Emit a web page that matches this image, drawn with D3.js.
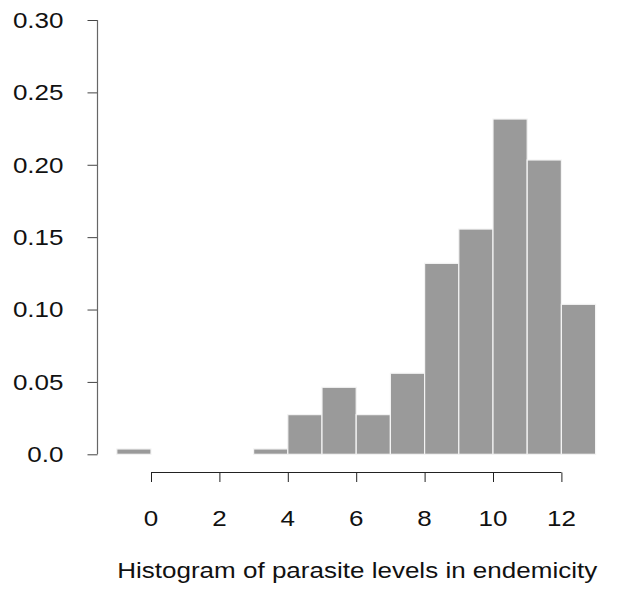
<!DOCTYPE html>
<html>
<head>
<meta charset="utf-8">
<script src="https://cdn.jsdelivr.net/npm/d3@7"></script>
<style>
    body { margin: 0; background: #fff; }
    svg { display: block; font-family: "Liberation Sans", Arial, sans-serif; }
</style>
</head>
<body>
<div id="chart"></div>
<script>
// bins of width 1, start value of each
const binStarts = [-1, 0, 1, 2, 3, 4, 5, 6, 7, 8, 9, 10, 11, 12];
const densities = [0.0037, 0, 0, 0, 0.0037, 0.0274, 0.0463, 0.0274, 0.0560, 0.1319, 0.1556, 0.2316, 0.2033, 0.1036];
const binWidth = 1;

const yTicks = [0, 0.05, 0.10, 0.15, 0.20, 0.25, 0.30];
const yTickLabels = ['0.0', '0.05', '0.10', '0.15', '0.20', '0.25', '0.30'];
const xTicks = [0, 2, 4, 6, 8, 10, 12];
const xTickLabels = ['0', '2', '4', '6', '8', '10', '12'];
const xLabel = 'Histogram of parasite levels in endemicity';

class HistChart {
    constructor() {
        this.width = 619;
        this.height = 590;
        this.fontSize = 21.5;
        this.stretch = 1.21; // text in the original is a bit wide
    }

    draw(container) {
        const svg = container.append('svg')
            .attr('width', this.width)
            .attr('height', this.height);

        const x = d3.scaleLinear().domain([-1, 13]).range([116.8, 595.6]);
        const y = d3.scaleLinear().domain([0, 0.30]).range([454.3, 20]);

        // Bars
        svg.append('g')
            .selectAll('rect')
            .data(binStarts.map((s, i) => ({ start: s, value: densities[i] })))
            .join('rect')
            .attr('x', d => x(d.start))
            .attr('y', d => y(d.value))
            .attr('width', d => x(d.start + binWidth) - x(d.start))
            .attr('height', d => y(0) - y(d.value))
            .attr('fill', '#9a9a9a')
            .attr('stroke', '#f4f4f4')
            .attr('stroke-width', 1.2);

        // Y axis
        const yAxis = svg.append('g')
            .attr('transform', 'translate(97.5,0)')
            .call(d3.axisLeft(y).tickValues(yTicks).tickSize(10).tickFormat(''));
        yAxis.select('.domain').remove();
        yAxis.selectAll('.tick line').attr('stroke', '#444');
        svg.append('line')
            .attr('x1', 97.5).attr('x2', 97.5)
            .attr('y1', y(0)).attr('y2', y(0.30))
            .attr('stroke', '#666').attr('stroke-width', 1.2);

        svg.append('g')
            .selectAll('text')
            .data(yTicks)
            .join('text')
            .attr('transform', d => `translate(63.5,${y(d)}) scale(${this.stretch},1)`)
            .attr('text-anchor', 'end')
            .attr('dy', '0.36em')
            .style('font-size', this.fontSize + 'px')
            .attr('fill', '#111')
            .text((d, i) => yTickLabels[i]);

        // X axis
        const xAxis = svg.append('g')
            .attr('transform', 'translate(0,472.5)')
            .call(d3.axisBottom(x).tickValues(xTicks).tickSize(9.5).tickFormat(''));
        xAxis.select('.domain').remove();
        xAxis.selectAll('.tick line').attr('stroke', '#222');
        svg.append('line')
            .attr('x1', x(0)).attr('x2', x(12))
            .attr('y1', 472.5).attr('y2', 472.5)
            .attr('stroke', '#222').attr('stroke-width', 1.2);

        svg.append('g')
            .selectAll('text')
            .data(xTicks)
            .join('text')
            .attr('transform', d => `translate(${x(d)},525.5) scale(${this.stretch},1)`)
            .attr('text-anchor', 'middle')
            .style('font-size', this.fontSize + 'px')
            .attr('fill', '#111')
            .text((d, i) => xTickLabels[i]);

        // Label under the axis
        svg.append('text')
            .attr('transform', `translate(${(x(-1) + x(13)) / 2 + 1},578) scale(${this.stretch},1)`)
            .attr('text-anchor', 'middle')
            .style('font-size', this.fontSize + 'px')
            .attr('fill', '#111')
            .text(xLabel);
    }
}

new HistChart().draw(d3.select('#chart'));
</script>
</body>
</html>
